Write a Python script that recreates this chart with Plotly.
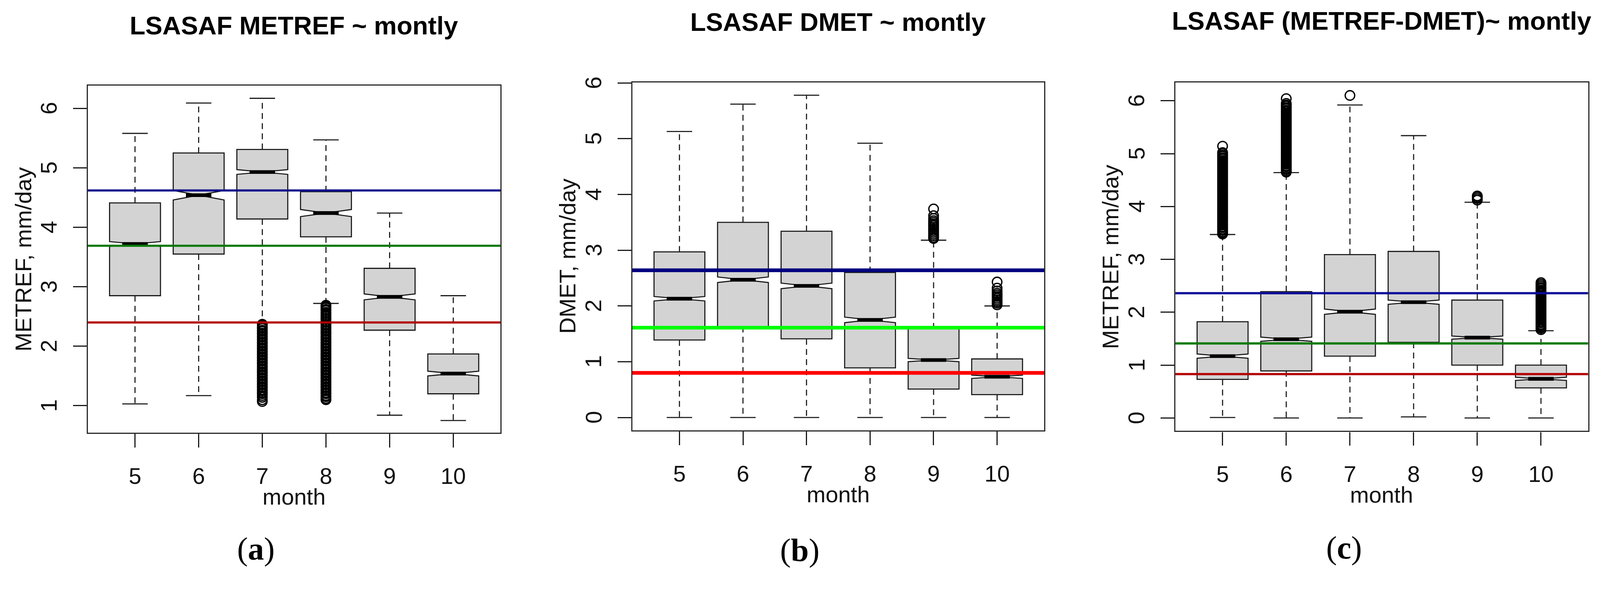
import plotly.graph_objects as go

# ---------------- data ----------------
MONTHS = [5, 6, 7, 8, 9, 10]
MONTH_LABELS = ["5", "6", "7", "8", "9", "10"]

# (a) LSASAF METREF
A_LOW = [1.03, 1.17, 2.40, 2.72, 0.84, 0.75]
A_Q1 = [2.85, 3.55, 4.14, 3.84, 2.27, 1.20]
A_MED = [3.72, 4.54, 4.93, 4.24, 2.83, 1.54]
A_Q3 = [4.41, 5.25, 5.31, 4.60, 3.31, 1.87]
A_HIGH = [5.58, 6.09, 6.17, 5.47, 4.24, 2.85]
A_NOTCH = [0.04, 0.08, 0.04, 0.06, 0.05, 0.04]
A_OUT_7 = [2.37, 2.35, 2.32, 2.30, 2.27, 2.25, 2.22, 2.20, 2.17, 2.15, 2.12, 2.10,
           2.07, 2.05, 2.02, 2.00, 1.97, 1.95, 1.92, 1.90, 1.87, 1.85, 1.82, 1.80,
           1.77, 1.75, 1.72, 1.70, 1.67, 1.65, 1.62, 1.60, 1.57, 1.55, 1.52, 1.50,
           1.47, 1.45, 1.42, 1.40, 1.37, 1.35, 1.32, 1.30, 1.27, 1.25, 1.22, 1.20,
           1.17, 1.14, 1.10, 1.07]
A_OUT_8 = [2.69, 2.67, 2.65, 2.62, 2.60, 2.57, 2.55, 2.52, 2.50, 2.47, 2.45, 2.42,
           2.40, 2.37, 2.35, 2.32, 2.30, 2.27, 2.25, 2.22, 2.20, 2.17, 2.15, 2.12,
           2.10, 2.07, 2.05, 2.02, 2.00, 1.97, 1.95, 1.92, 1.90, 1.87, 1.85, 1.82,
           1.80, 1.77, 1.75, 1.72, 1.70, 1.67, 1.65, 1.62, 1.60, 1.57, 1.55, 1.52,
           1.50, 1.47, 1.45, 1.42, 1.40, 1.37, 1.35, 1.32, 1.30, 1.27, 1.25, 1.22,
           1.20, 1.17, 1.15, 1.12, 1.10]
A_REF = [4.62, 3.69, 2.40]
A_TICKS = [1, 2, 3, 4, 5, 6]

# (b) LSASAF DMET
B_LOW = [0.0, 0.0, 0.0, 0.0, 0.0, 0.0]
B_Q1 = [1.39, 1.63, 1.41, 0.89, 0.51, 0.41]
B_MED = [2.13, 2.47, 2.36, 1.75, 1.03, 0.73]
B_Q3 = [2.97, 3.50, 3.34, 2.60, 1.59, 1.05]
B_HIGH = [5.13, 5.62, 5.78, 4.92, 3.18, 2.00]
B_NOTCH = [0.04, 0.05, 0.05, 0.05, 0.03, 0.03]
B_OUT_9 = [3.74, 3.62, 3.57, 3.53, 3.50, 3.47, 3.44, 3.41, 3.38, 3.35, 3.32, 3.29,
           3.26, 3.23, 3.21]
B_OUT_10 = [2.43, 2.32, 2.27, 2.23, 2.20, 2.17, 2.14, 2.11, 2.08, 2.05, 2.02]
B_REF = [2.64, 1.61, 0.80]
B_TICKS = [0, 1, 2, 3, 4, 5, 6]

# (c) LSASAF (METREF-DMET)
C_LOW = [0.01, 0.0, 0.0, 0.02, 0.0, 0.0]
C_Q1 = [0.73, 0.89, 1.17, 1.43, 1.00, 0.57]
C_MED = [1.17, 1.49, 2.01, 2.19, 1.52, 0.74]
C_Q3 = [1.82, 2.39, 3.09, 3.15, 2.23, 1.00]
C_HIGH = [3.47, 4.64, 5.92, 5.34, 4.08, 1.65]
C_NOTCH = [0.04, 0.04, 0.05, 0.04, 0.03, 0.03]
C_OUT_5 = [5.14, 5.02, 5.00, 4.97, 4.95, 4.92, 4.90, 4.87, 4.85, 4.82, 4.80, 4.77,
           4.75, 4.72, 4.70, 4.67, 4.65, 4.62, 4.60, 4.57, 4.55, 4.52, 4.50, 4.47,
           4.45, 4.42, 4.40, 4.37, 4.35, 4.32, 4.30, 4.27, 4.25, 4.22, 4.20, 4.17,
           4.15, 4.12, 4.10, 4.07, 4.05, 4.02, 4.00, 3.97, 3.95, 3.92, 3.90, 3.87,
           3.85, 3.82, 3.80, 3.77, 3.75, 3.72, 3.70, 3.67, 3.65, 3.62, 3.60, 3.57,
           3.55, 3.52, 3.50, 3.48]
C_OUT_6 = [6.04, 5.95, 5.92, 5.90, 5.87, 5.85, 5.82, 5.80, 5.77, 5.75, 5.72, 5.70,
           5.67, 5.65, 5.62, 5.60, 5.57, 5.55, 5.52, 5.50, 5.47, 5.45, 5.42, 5.40,
           5.37, 5.35, 5.32, 5.30, 5.27, 5.25, 5.22, 5.20, 5.17, 5.15, 5.12, 5.10,
           5.07, 5.05, 5.02, 5.00, 4.97, 4.95, 4.92, 4.90, 4.87, 4.85, 4.82, 4.80,
           4.77, 4.75, 4.72, 4.70, 4.67, 4.65]
C_OUT_7 = [6.10]
C_OUT_9 = [4.12, 4.15, 4.18, 4.20]
C_OUT_10 = [2.56, 2.53, 2.50, 2.47, 2.45, 2.42, 2.40, 2.37, 2.35, 2.32, 2.30, 2.27,
            2.25, 2.22, 2.20, 2.17, 2.15, 2.12, 2.10, 2.07, 2.05, 2.02, 2.00, 1.97,
            1.95, 1.92, 1.90, 1.87, 1.85, 1.82, 1.80, 1.77, 1.75, 1.72, 1.70, 1.67]
C_REF = [2.36, 1.41, 0.83]
C_TICKS = [0, 1, 2, 3, 4, 5, 6]

TITLES = ["LSASAF METREF ~ montly", "LSASAF DMET ~ montly",
          "LSASAF (METREF-DMET)~ montly"]
Y_TITLES = ["METREF, mm/day", "DMET, mm/day", "METREF, mm/day"]
X_TITLE = "month"
SUB_LABELS = ["(<b>a</b>)", "(<b>b</b>)", "(<b>c</b>)"]

# ---------------- geometry / style (target picture pixels) ----------------
W, H = 4368, 1576
DPR = W / 4096.0          # the page is photographed with this pixel ratio
M = 8 * DPR               # default page margin, in picture pixels
FW, FH = W - 2 * M, H - M


def px(v):                # picture pixels -> CSS pixels
    return v / DPR


def fx(X):                # picture x -> paper fraction
    return (X - M) / FW


def fy(Y):                # picture y -> paper fraction
    return 1 - (Y - M) / FH


FONT = "Liberation Sans, Arial, Helvetica, sans-serif"
SERIF = "Liberation Serif, Times New Roman, serif"
BOX_W = 0.8
STAPLE_HALF = 0.2
MED_HALF = 0.2
INK = "#1a1a1a"
FILL = "#d3d3d3"
TXT = "#111111"
TICK_FS = px(62)
TITLE_FS = px(70)

panels = [
    dict(low=A_LOW, q1=A_Q1, med=A_MED, q3=A_Q3, high=A_HIGH, notch=A_NOTCH,
         out={7: A_OUT_7, 8: A_OUT_8}, ref=A_REF,
         ref_colors=["#0b0b8c", "#067a06", "#b30000"], ref_w=6,
         yrange=[0.544, 6.383], ticks=A_TICKS,
         box=(240, 1366, 233.6, 1180.7), title_y=70, sub=(699, 1497)),
    dict(low=B_LOW, q1=B_Q1, med=B_MED, q3=B_Q3, high=B_HIGH, notch=B_NOTCH,
         out={9: B_OUT_9, 10: B_OUT_10}, ref=B_REF,
         ref_colors=["#00007f", "#00ff00", "#ff0000"], ref_w=10,
         yrange=[-0.231, 6.01], ticks=B_TICKS,
         box=(1726.5, 2850.5, 224.8, 1174), title_y=60, sub=(2183, 1500)),
    dict(low=C_LOW, q1=C_Q1, med=C_MED, q3=C_Q3, high=C_HIGH, notch=C_NOTCH,
         out={5: C_OUT_5, 6: C_OUT_6, 7: C_OUT_7, 9: C_OUT_9, 10: C_OUT_10}, ref=C_REF,
         ref_colors=["#0b0b9a", "#067a06", "#b30000"], ref_w=6,
         yrange=[-0.244, 6.344], ticks=C_TICKS,
         box=(3209, 4335.5, 225.2, 1175.5), title_y=57.5, sub=(3669, 1494)),
]

fig = go.Figure()
layout = dict(
    autosize=True,
    margin=dict(l=0, r=0, t=0, b=0, pad=0),
    paper_bgcolor="white", plot_bgcolor="white",
    showlegend=False, boxmode="overlay",
    annotations=[], shapes=[],
)


def note(text, x, y, size, family=FONT, angle=0, yref="paper", color=TXT):
    layout["annotations"].append(dict(
        text=text, xref="paper", yref=yref, x=x, y=y, textangle=angle,
        xanchor="center", yanchor="middle", showarrow=False,
        font=dict(family=family, size=size, color=color)))


for i, p in enumerate(panels):
    n = "" if i == 0 else str(i + 1)
    xa, ya = "x" + n, "y" + n
    L, R, T, B = p["box"]

    fig.add_trace(go.Box(
        x=MONTHS, q1=p["q1"], median=p["med"], q3=p["q3"],
        lowerfence=p["low"], upperfence=p["high"],
        notched=True, notchspan=p["notch"], notchwidth=0.5,
        width=BOX_W, showwhiskers=False, boxpoints=False,
        fillcolor=FILL, line=dict(color=INK, width=px(3)),
        xaxis=xa, yaxis=ya, hoverinfo="skip", showlegend=False))

    wx, wy, sx, sy, mx, my = [], [], [], [], [], []
    for m, lo, a, md, b, hi in zip(MONTHS, p["low"], p["q1"], p["med"], p["q3"], p["high"]):
        wx += [m, m, None, m, m, None]
        wy += [b, hi, None, a, lo, None]
        sx += [m - STAPLE_HALF, m + STAPLE_HALF, None, m - STAPLE_HALF, m + STAPLE_HALF, None]
        sy += [hi, hi, None, lo, lo, None]
        mx += [m - MED_HALF, m + MED_HALF, None]
        my += [md, md, None]

    fig.add_trace(go.Scatter(x=wx, y=wy, mode="lines", xaxis=xa, yaxis=ya,
                             line=dict(color=INK, width=px(3), dash="15px,11px"),
                             hoverinfo="skip", showlegend=False))
    fig.add_trace(go.Scatter(x=sx, y=sy, mode="lines", xaxis=xa, yaxis=ya,
                             line=dict(color=INK, width=px(3)),
                             hoverinfo="skip", showlegend=False))
    fig.add_trace(go.Scatter(x=mx, y=my, mode="lines", xaxis=xa, yaxis=ya,
                             line=dict(color="black", width=px(10)),
                             hoverinfo="skip", showlegend=False))

    ox, oy = [], []
    for m, vals in p["out"].items():
        ox += [m] * len(vals)
        oy += vals
    fig.add_trace(go.Scatter(x=ox, y=oy, mode="markers", xaxis=xa, yaxis=ya,
                             marker=dict(symbol="circle-open", size=px(26), color="black",
                                         line=dict(width=px(3.5), color="black")),
                             hoverinfo="skip", showlegend=False))

    for val, col in zip(p["ref"], p["ref_colors"]):
        layout["shapes"].append(dict(
            type="line", xref=xa + " domain", yref=ya, x0=0, x1=1, y0=val, y1=val,
            line=dict(color=col, width=px(p["ref_w"])), layer="above"))

    axis_common = dict(
        showline=True, mirror=True, linecolor="#2a2a2a", linewidth=px(3.5),
        ticks="outside", ticklen=px(37), tickwidth=px(3), tickcolor=INK,
        showgrid=False, zeroline=False,
        tickfont=dict(family=FONT, size=TICK_FS, color=TXT),
    )
    layout["xaxis" + n] = dict(
        axis_common, domain=[fx(L), fx(R)], anchor=ya, range=[4.26, 10.74],
        tickvals=MONTHS, ticktext=MONTH_LABELS, ticklabelstandoff=int(round(px(24))),
    )
    layout["yaxis" + n] = dict(
        axis_common, domain=[fy(B), fy(T)], anchor=xa, range=p["yrange"],
        tickvals=p["ticks"], showticklabels=False,
    )

    # y tick labels (rotated, as in R), placed on the data values of the y axis
    for t in p["ticks"]:
        note(str(t), fx(L - 107), t, TICK_FS, angle=-90, yref=ya)

    note(Y_TITLES[i], fx(L - 177), (fy(B) + fy(T)) / 2, TICK_FS, angle=-90)
    note(X_TITLE, fx((L + R) / 2), fy(B + 174), TICK_FS)
    note("<b>" + TITLES[i] + "</b>", fx((L + R) / 2), fy(p["title_y"]), TITLE_FS,
         color="black")
    note(SUB_LABELS[i], fx(p["sub"][0]), fy(p["sub"][1]), px(88), family=SERIF,
         color="black")

fig.update_layout(**layout)
fig.write_html("out.html", config={"responsive": True},
               default_width="calc(100vw - 16px)",
               default_height="calc(36.0806vw - 8px)")
